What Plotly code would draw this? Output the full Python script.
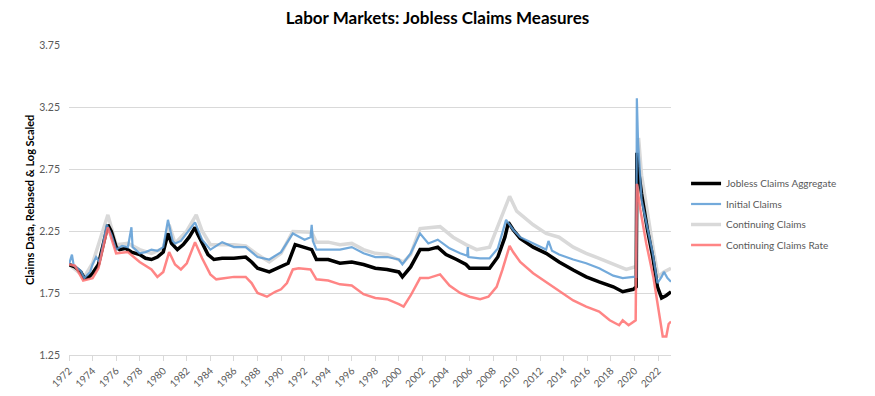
import plotly.graph_objects as go

# ---- data (decimal years) ----
agg_x = [1972.0,1972.5,1973.0,1973.3,1973.7,1974.0,1974.5,1975.0,1975.3,1975.6,1976.0,1976.3,1976.8,1977.3,1978.0,1978.5,1979.0,1979.5,1980.0,1980.4,1980.7,1981.2,1981.7,1982.2,1982.7,1982.9,1983.3,1983.8,1984.3,1985.0,1986.0,1987.0,1987.5,1988.0,1989.0,1990.0,1990.6,1991.2,1992.0,1992.6,1993.0,1994.0,1995.0,1996.0,1997.0,1998.0,1999.0,2000.0,2000.3,2001.0,2001.8,2002.5,2003.3,2004.0,2004.9,2005.7,2006.0,2006.9,2007.7,2008.4,2009.0,2009.3,2009.7,2010.3,2011.4,2012.5,2013.6,2014.8,2015.9,2017.0,2018.2,2019.0,2019.9,2020.15,2020.2,2020.3,2020.6,2021.1,2021.55,2021.95,2022.3,2022.7,2023.1]
agg_y = [1.98,1.96,1.92,1.87,1.88,1.91,1.98,2.18,2.30,2.245,2.12,2.10,2.11,2.08,2.06,2.03,2.02,2.04,2.08,2.23,2.15,2.10,2.14,2.20,2.28,2.23,2.15,2.06,2.02,2.03,2.03,2.04,2.00,1.95,1.92,1.96,1.99,2.14,2.12,2.10,2.02,2.02,1.99,2.00,1.98,1.95,1.94,1.92,1.88,1.96,2.10,2.10,2.12,2.06,2.02,1.98,1.95,1.95,1.95,2.04,2.20,2.32,2.26,2.19,2.12,2.07,2.00,1.935,1.88,1.84,1.80,1.76,1.78,1.80,2.88,2.77,2.55,2.26,2.04,1.80,1.71,1.73,1.76]

init_x = [1972.0,1972.25,1972.4,1973.0,1973.3,1973.8,1974.0,1974.3,1974.6,1975.0,1975.2,1975.6,1976.0,1976.5,1977.0,1977.3,1977.4,1978.0,1978.5,1979.0,1979.5,1980.0,1980.4,1980.8,1981.0,1981.5,1982.0,1982.7,1983.3,1984.0,1985.0,1986.0,1987.0,1988.0,1989.0,1990.0,1991.0,1992.0,1992.5,1992.6,1992.7,1993.0,1994.0,1995.0,1996.0,1997.0,1998.0,1999.0,2000.0,2000.3,2001.0,2001.8,2002.5,2003.3,2004.3,2005.2,2005.8,2005.85,2005.9,2006.9,2007.7,2008.4,2009.1,2009.7,2010.3,2011.4,2012.5,2012.7,2013.0,2013.6,2014.8,2015.9,2017.0,2018.2,2019.0,2019.9,2020.15,2020.2,2020.3,2020.6,2021.1,2021.55,2021.95,2022.3,2022.5,2022.8,2023.1]
init_y = [1.98,2.06,1.97,1.93,1.87,1.92,1.98,2.04,2.00,2.20,2.30,2.22,2.10,2.13,2.12,2.28,2.12,2.07,2.08,2.10,2.09,2.12,2.34,2.17,2.15,2.17,2.23,2.32,2.18,2.10,2.16,2.12,2.12,2.04,2.02,2.08,2.23,2.18,2.20,2.30,2.17,2.10,2.10,2.10,2.12,2.07,2.04,2.04,2.02,1.98,2.07,2.23,2.15,2.18,2.11,2.07,2.05,2.12,2.04,2.03,2.03,2.11,2.34,2.26,2.20,2.15,2.10,2.17,2.09,2.06,2.02,1.99,1.95,1.89,1.87,1.88,1.88,3.32,2.98,2.50,2.26,2.07,1.83,1.88,1.92,1.87,1.84]

cont_x = [1972.0,1973.3,1974.0,1975.3,1976.0,1977.0,1978.0,1979.0,1980.0,1980.5,1981.0,1982.0,1982.8,1983.3,1984.0,1985.0,1986.0,1987.0,1988.0,1989.0,1990.0,1991.0,1992.0,1992.6,1993.0,1994.0,1995.0,1996.0,1997.0,1998.0,1999.0,2000.0,2000.4,2001.0,2001.8,2003.5,2004.6,2005.7,2006.6,2007.7,2008.8,2009.4,2010.0,2011.4,2012.5,2013.6,2014.8,2015.9,2017.0,2018.2,2019.3,2020.0,2020.15,2020.2,2020.35,2020.6,2021.1,2021.6,2022.0,2022.5,2023.1]
cont_y = [1.98,1.88,1.99,2.38,2.14,2.15,2.10,2.07,2.11,2.30,2.15,2.25,2.38,2.25,2.14,2.14,2.14,2.13,2.06,2.00,2.07,2.245,2.245,2.24,2.16,2.16,2.14,2.15,2.10,2.07,2.06,2.02,2.00,2.06,2.27,2.285,2.20,2.14,2.10,2.12,2.39,2.53,2.41,2.30,2.23,2.20,2.12,2.07,2.03,1.98,1.94,1.96,1.96,2.70,3.00,2.70,2.39,2.10,1.88,1.92,1.95]

rate_x = [1972.0,1972.5,1973.2,1974.0,1974.5,1975.3,1976.0,1977.0,1978.0,1979.0,1979.5,1980.0,1980.5,1981.0,1981.5,1982.0,1982.7,1983.3,1984.0,1984.5,1986.0,1987.0,1987.5,1988.0,1988.8,1989.5,1990.0,1990.5,1991.0,1991.5,1992.5,1993.0,1994.0,1995.0,1996.0,1997.0,1998.0,1999.0,2000.0,2000.4,2001.0,2001.8,2002.5,2003.5,2004.3,2005.2,2006.0,2006.9,2007.6,2008.3,2008.8,2009.4,2009.7,2010.3,2011.4,2012.5,2013.6,2014.8,2015.9,2017.0,2017.9,2018.7,2019.0,2019.5,2020.1,2020.2,2020.5,2021.0,2021.6,2022.1,2022.4,2022.7,2022.9,2023.1]
rate_y = [1.98,1.97,1.85,1.87,1.95,2.28,2.07,2.08,2.00,1.94,1.88,1.92,2.08,1.98,1.94,1.99,2.16,2.03,1.90,1.86,1.88,1.88,1.83,1.75,1.72,1.76,1.78,1.83,1.94,1.95,1.94,1.86,1.85,1.82,1.81,1.74,1.71,1.70,1.66,1.64,1.73,1.87,1.87,1.90,1.81,1.75,1.72,1.70,1.72,1.80,1.94,2.13,2.08,2.00,1.91,1.84,1.77,1.69,1.64,1.60,1.53,1.49,1.53,1.49,1.53,2.63,2.42,2.15,1.88,1.56,1.40,1.40,1.50,1.52]

x_ticks = list(range(1972, 2023, 2))
y_ticks = [1.25, 1.75, 2.25, 2.75, 3.25, 3.75]

fig = go.Figure()
fig.add_trace(go.Scatter(x=cont_x, y=cont_y, mode="lines", name="Continuing Claims",
                         line=dict(color="#D9D9D9", width=3.5), legendrank=3, legendgroup="c"))
fig.add_trace(go.Scatter(x=agg_x, y=agg_y, mode="lines", name="Jobless Claims Aggregate",
                         line=dict(color="#000000", width=3.5), legendrank=1, legendgroup="a"))
fig.add_trace(go.Scatter(x=init_x, y=init_y, mode="lines", name="Initial Claims",
                         line=dict(color="rgba(91,155,213,0.85)", width=2.2), legendrank=2, legendgroup="b"))
fig.add_trace(go.Scatter(x=rate_x, y=rate_y, mode="lines", name="Continuing Claims Rate",
                         line=dict(color="rgba(255,112,112,0.85)", width=2.5), legendrank=4, legendgroup="d"))

fig.update_layout(
    width=875, height=396,
    paper_bgcolor="white", plot_bgcolor="white",
    margin=dict(l=69, r=204, t=45, b=41, autoexpand=False),
    font=dict(family="Lato, Open Sans, sans-serif", color="#595959", size=10),
    title=dict(text="<b>Labor Markets: Jobless Claims Measures</b>", x=0.5, xanchor="center",
               xref="container", yref="container", y=1 - 18 / 396, yanchor="middle",
               font=dict(size=17, color="#000000")),
    showlegend=True,
    legend=dict(x=1.025, y=0.60, xanchor="left", yanchor="top", font=dict(size=10, color="#595959"),
                bgcolor="rgba(0,0,0,0)", tracegroupgap=1.5),
    annotations=[dict(text="<b>Claims Data, Rebased & Log Scaled</b>", textangle=-90,
                      xref="paper", yref="paper", x=(29 - 69) / 602, y=0.5,
                      xanchor="center", yanchor="middle", showarrow=False,
                      font=dict(size=11, color="#000000"))],
)
fig.update_xaxes(range=[1972, 2023.1], tickmode="array", tickvals=x_ticks,
                 ticktext=[str(t) for t in x_ticks], tickangle=-45, showgrid=False,
                 showline=True, linecolor="#D9D9D9", ticks="outside", tickcolor="#D9D9D9",
                 ticklen=5, zeroline=False, automargin=False,
                 tickfont=dict(size=10, color="#595959"))
fig.update_yaxes(range=[1.25, 3.75], tickmode="array", tickvals=y_ticks,
                 ticktext=[f"{v:.2f}" for v in y_ticks], showgrid=True, gridcolor="#D9D9D9",
                 zeroline=False, showline=False, ticks="", ticklabelstandoff=8,
                 automargin=False, tickfont=dict(size=10.5, color="#595959"))

fig.write_html("out.html", config={"displayModeBar": False},
               post_script="document.body.style.margin='0';document.body.style.padding='0';")
